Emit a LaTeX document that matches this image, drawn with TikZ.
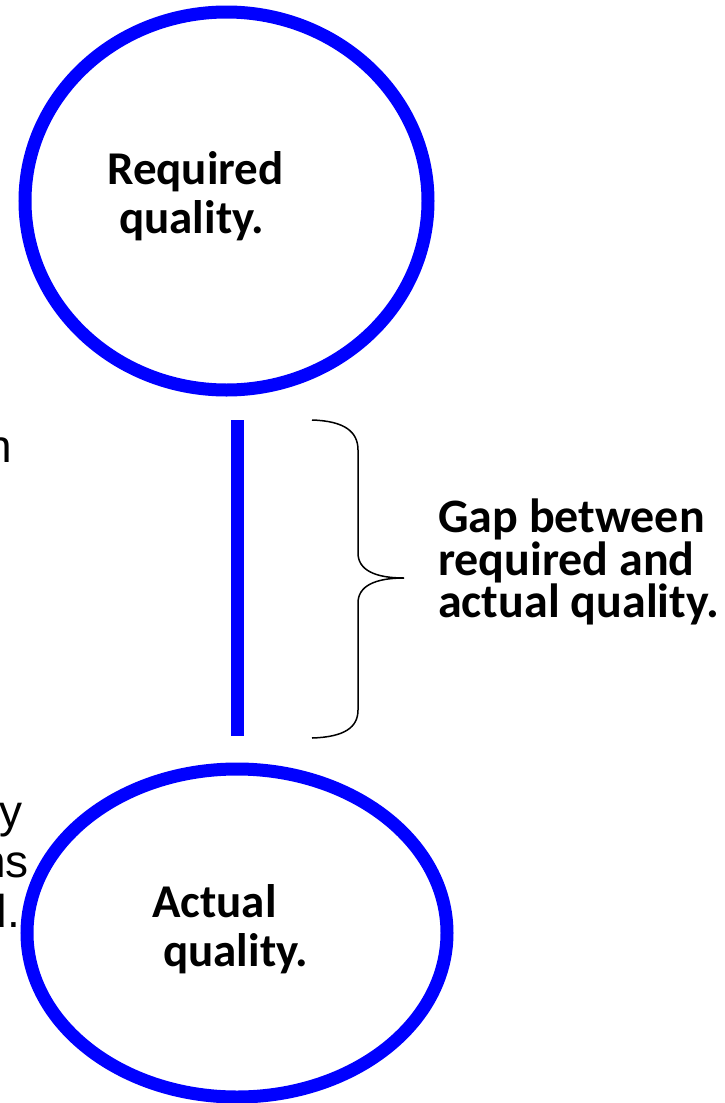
\documentclass[tikz,border=0pt]{standalone}
\usepackage{fontspec}
\setmainfont{Carlito}
\newfontfamily\notefont{Liberation Sans}
\usetikzlibrary{shapes.geometric,positioning}

\begin{document}
\begin{tikzpicture}[x=1pt,y=-1pt,on grid,
	quality/.style={ellipse,draw=blue,line width=13pt,inner sep=0pt,outer sep=0pt},
	qtext/.style={font=\fontsize{47}{49}\selectfont\bfseries,align=left,inner sep=0pt,anchor=west},
	note/.style={font=\notefont\fontsize{46}{50}\selectfont,inner sep=0pt,anchor=base east}]
	\useasboundingbox (0,0) rectangle (724,1103);
	% the two qualities
	\node[quality,minimum width=403pt,minimum height=378pt] (req) at (226.5,201) {};
	\node[quality,minimum width=420pt,minimum height=328pt] (act) [below right=732pt and 10.5pt of req] {};
	\node[qtext] (reqtext) at ([xshift=-119.5pt,yshift=5pt]req.center) {Required\\\hspace*{12pt}quality.};
	\node[qtext] (acttext) at ([xshift=-85pt,yshift=4pt]act.center) {Actual\\\hspace*{11pt}quality.};
	% gap
	\draw[line width=13pt,blue,shorten <=30pt,shorten >=33pt] (req.south -| act.north) -- (act.north);
	\coordinate (tip) at (404,578);
	\draw[line width=1.5pt] (312,420) .. controls (345,421) and (358,432) .. (358,450) -- (358,553)
		.. controls (358,570) and (375,578) .. (tip)
		.. controls (375,578) and (358,586) .. (358,603) -- (358,710)
		.. controls (358,727) and (345,737) .. (312,738);
	\node[qtext,font=\fontsize{48}{41}\selectfont\bfseries] (gaptext) at ([xshift=34pt,yshift=16pt]tip) {Gap between\\required and\\actual quality.};
	% cut-off notes on the left
	\node[note] (notea) at (12,462) {n};
	\node[note] (noteb) at (23,827) {y};
	\node[note] (notec) at (29,877) {ns};
	\node[note] (noted) at (20,927) {d.};
\end{tikzpicture}
\end{document}
